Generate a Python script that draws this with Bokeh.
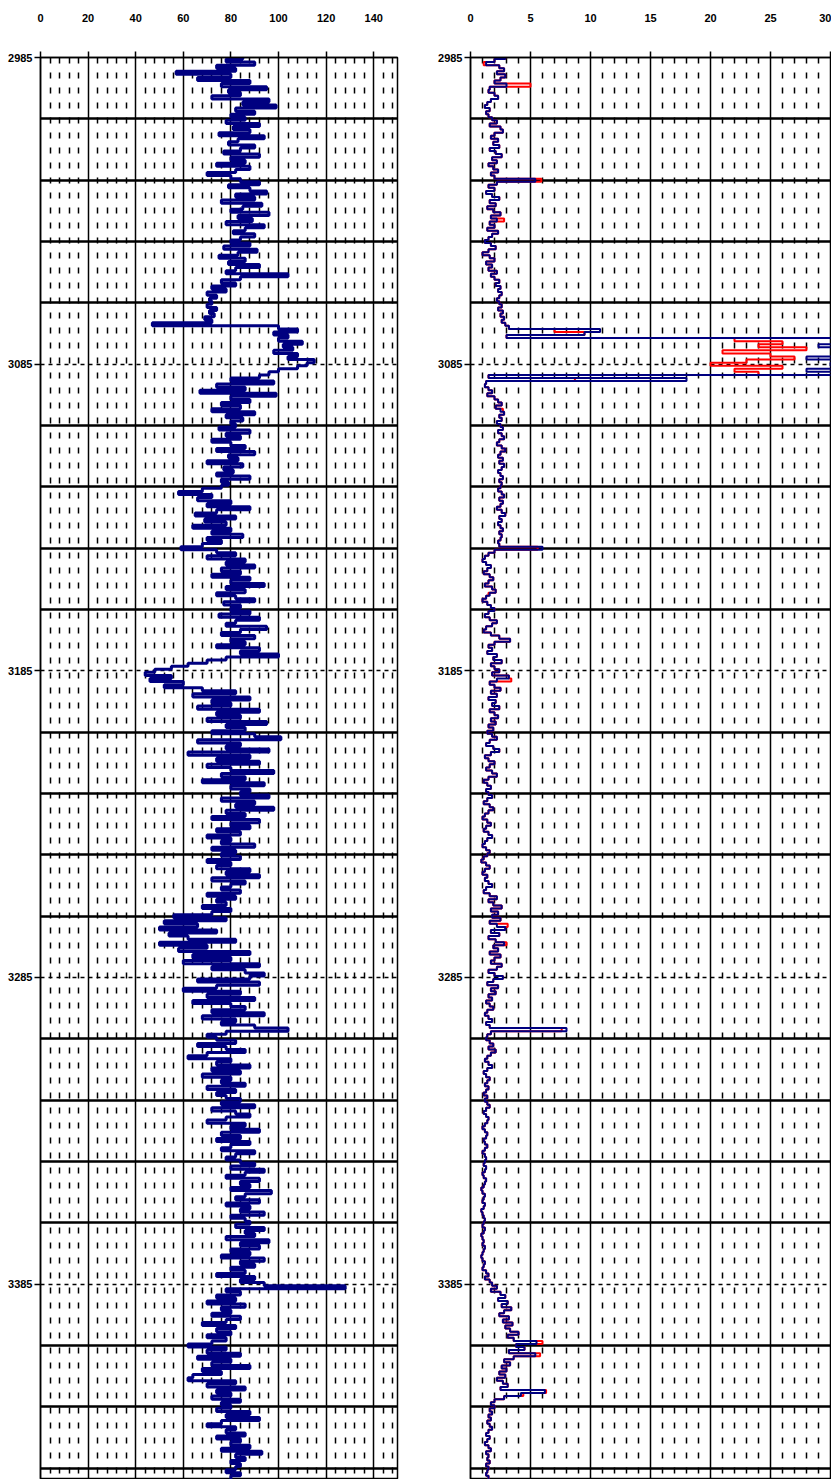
import numpy as np
from bokeh.plotting import figure
from bokeh.models import Range1d, FixedTicker, Grid
from bokeh.layouts import row
from bokeh.embed import file_html
from bokeh.resources import INLINE

# ---------------- data ----------------
DEPTH_TOP = 2985
DEPTH_BOTTOM = 3448.7
depth_labels = [2985, 3085, 3185, 3285, 3385]
left_ticks = [0, 20, 40, 60, 80, 100, 120, 140]
right_ticks = [0, 5, 10, 15, 20, 25, 30]

# left track curve, one value per metre from 2985
gr_values = [
    85, 78, 90, 74, 82, 57, 80, 66, 88, 76, 95, 79, 84, 72, 96, 85, 99, 82, 90, 80,
    86, 78, 92, 81, 88, 75, 94, 83, 79, 90, 84, 77, 92, 80, 86, 74, 88, 82, 70, 80,
    84, 92, 79, 88, 95, 82, 90, 76, 93, 85, 80, 96, 83, 89, 78, 94, 86, 81, 90, 84,
    80, 88, 77, 91, 83, 75, 86, 79, 92, 82, 78, 104, 84, 76, 82, 72, 78, 70, 74, 71,
    72, 70, 74, 71, 73, 69, 72, 47, 100, 108, 98, 104, 100, 110, 102, 106, 98, 108, 104, 115,
    112, 108, 100, 96, 92, 80, 98, 74, 86, 67, 99, 80, 88, 76, 84, 72, 90, 78, 85, 80,
    82, 75, 88, 78, 84, 72, 80, 86, 74, 90, 79, 83, 70, 85, 77, 81, 74, 88, 76, 79,
    76, 68, 58, 72, 66, 80, 70, 88, 74, 65, 82, 69, 78, 64, 80, 72, 85, 70, 76, 68,
    59, 74, 82, 70, 86, 78, 90, 76, 84, 72, 88, 80, 94, 78, 86, 74, 82, 90, 77, 84,
    80, 88, 75, 92, 82, 78, 95, 84, 76, 90, 80, 86, 74, 92, 84, 100, 78, 70, 62, 55,
    48, 44, 55, 46, 60, 52, 68, 82, 64, 88, 72, 80, 66, 92, 74, 84, 70, 95, 78, 86,
    72, 90, 101, 66, 84, 78, 96, 62, 88, 74, 92, 70, 80, 98, 76, 86, 68, 94, 80, 88,
    84, 96, 76, 90, 82, 98, 78, 86, 72, 92, 80, 88, 74, 84, 70, 80, 76, 90, 72, 82,
    76, 84, 70, 80, 74, 88, 78, 92, 72, 86, 80, 76, 84, 70, 82, 74, 78, 68, 80, 72,
    56, 78, 52, 66, 50, 74, 54, 62, 82, 50, 70, 58, 88, 64, 80, 60, 92, 72, 86, 94,
    88, 66, 92, 74, 60, 84, 70, 90, 64, 80, 86, 72, 94, 68, 82, 76, 90, 104, 78, 70,
    74, 82, 66, 78, 86, 70, 62, 80, 74, 88, 72, 84, 68, 80, 76, 86, 70, 82, 74, 78,
    84, 76, 90, 72, 82, 88, 78, 70, 86, 80, 92, 76, 84, 74, 88, 80, 76, 90, 82, 78,
    84, 90, 80, 94, 86, 78, 92, 84, 88, 80, 97, 86, 82, 92, 78, 88, 84, 94, 80, 86,
    88, 82, 94, 86, 90, 78, 96, 84, 92, 80, 88, 76, 94, 84, 90, 80, 86, 74, 90, 84,
    94, 128, 78, 84, 74, 82, 70, 86, 76, 80, 72, 84, 78, 68, 82, 74, 80, 70, 78, 72,
    62, 78, 70, 84, 66, 80, 72, 88, 68, 76, 64, 62, 82, 70, 86, 74, 80, 72, 84, 76,
    80, 74, 88, 78, 92, 76, 70, 82, 78, 86, 74, 84, 80, 88, 76, 93, 82, 86, 80, 84, 82, 78, 84, 80,
]

# right track, blue curve, one value per metre from 2985
res_blue = [
    2.9, 2.0, 1.3, 2.4, 2.8, 2.2, 2.9, 2.5, 2.0, 3.0, 1.6, 1.5, 2.0, 2.3, 1.7, 1.4, 1.2, 1.6, 1.3, 1.5,
    1.8, 2.2, 1.6, 2.5, 2.7, 2.0, 1.7, 2.3, 1.9, 2.4, 1.6, 2.1, 2.6, 1.8, 2.2, 1.5, 1.9, 2.3, 1.7, 2.0,
    5.4, 2.2, 1.5, 2.0, 1.3, 1.8, 2.4, 1.6, 2.1, 1.4, 1.9, 2.5, 1.7, 2.2, 1.6, 2.0, 1.4, 2.3, 1.8, 1.5,
    1.2, 1.7, 2.1, 1.5, 1.0, 1.6, 2.0, 1.3, 1.8, 1.5, 2.2, 1.7, 2.0, 2.4, 2.1, 2.5, 2.3, 2.6, 2.4, 2.2,
    2.4, 2.6, 2.3, 2.7, 2.5, 2.8, 2.6, 2.9, 3.2, 10.8, 9.5, 3.0, 35, 32, 29, 35, 31, 35, 28, 33,
    30, 35, 28, 35, 1.5, 18, 1.3, 1.2, 1.5, 1.8, 1.4, 2.0, 2.3, 2.6, 2.1, 2.5, 2.8, 2.4, 2.6, 2.2,
    2.5, 2.7, 2.3, 2.6, 2.8, 2.4, 2.2, 2.6, 2.9, 2.5, 2.3, 2.7, 2.4, 2.8, 2.6, 2.3, 2.5, 2.7, 2.4, 2.6,
    2.5, 2.3, 2.6, 2.8, 2.4, 2.7, 2.5, 2.2, 2.6, 2.9, 2.4, 2.6, 2.3, 2.5, 2.7, 2.4, 2.6, 2.5, 2.3, 2.4,
    6.0, 2.0, 1.5, 1.2, 1.0, 1.3, 1.7, 1.4, 1.1, 1.6, 1.9, 1.5, 1.2, 1.8, 2.1, 1.6, 1.3, 1.0, 1.4, 1.7,
    2.0, 1.5, 1.2, 1.6, 2.2, 1.8, 1.3, 1.1, 1.7, 2.4, 3.3, 2.0, 1.5, 1.8, 1.4, 2.2, 1.9, 2.6, 1.7, 2.0,
    2.4, 1.8, 3.2, 2.2, 1.6, 2.0, 2.5, 1.7, 2.2, 1.5, 2.1, 1.8, 2.4, 1.6, 2.0, 2.3, 1.7, 2.1, 1.5, 1.9,
    1.4, 1.8, 2.2, 1.6, 1.3, 1.9, 2.4, 1.7, 1.2, 1.5, 2.0, 1.6, 1.3, 1.8, 2.2, 1.5, 1.1, 1.4, 1.7, 1.3,
    1.5, 1.8, 1.4, 1.1, 1.6, 1.9, 1.5, 1.2, 1.0, 1.4, 1.7, 1.3, 1.1, 1.5, 1.8, 1.4, 1.2, 1.0, 1.3, 1.6,
    1.4, 1.1, 0.9, 1.3, 1.6, 1.2, 1.0, 1.4, 1.2, 1.5, 1.8, 1.3, 1.1, 1.6, 2.2, 1.5, 1.9, 2.6, 1.7, 2.3,
    1.8, 2.5, 1.6, 2.2, 2.9, 1.7, 2.4, 1.5, 2.1, 2.8, 1.9, 2.3, 1.6, 2.5, 2.0, 1.7, 2.6, 2.2, 1.5, 2.0,
    2.7, 1.9, 1.4, 2.3, 1.7, 2.1, 1.5, 1.8, 1.3, 1.6, 1.9, 1.4, 1.2, 1.5, 1.8, 1.3, 1.6, 8.0, 1.7, 1.4,
    1.3, 1.6, 1.9, 1.5, 2.1, 1.7, 1.4, 1.2, 1.5, 1.8, 1.4, 1.1, 1.3, 1.6, 1.4, 1.2, 1.5, 1.3, 1.1, 1.4,
    1.2, 1.4, 1.6, 1.3, 1.1, 1.3, 1.5, 1.4, 1.2, 1.0, 1.2, 1.4, 1.3, 1.1, 1.2, 1.4, 1.2, 1.0, 1.2, 1.3,
    1.2, 1.1, 1.3, 1.2, 1.0, 1.1, 1.3, 1.2, 1.1, 0.9, 1.0, 1.2, 1.1, 1.0, 1.2, 1.1, 0.9, 1.0, 1.1, 1.2,
    1.1, 1.0, 1.2, 1.1, 0.9, 1.0, 1.1, 1.0, 1.2, 1.1, 1.0, 0.9, 1.0, 1.2, 1.1, 1.0, 1.3, 1.5, 1.2, 1.6,
    1.8, 2.2, 1.7, 2.5, 2.9, 2.3, 3.1, 2.6, 3.4, 2.8, 2.4, 3.2, 2.7, 3.5, 2.9, 3.3, 4.0, 3.1, 3.6, 5.5,
    3.8, 4.5, 3.2, 5.4, 3.6, 2.8, 3.3, 2.6, 3.0, 2.4, 2.9, 2.2, 2.7, 3.1, 2.5, 6.2, 4.2, 2.8, 2.0, 1.7,
    2.0, 1.6, 1.8, 1.5, 1.7, 1.4, 1.6, 1.8, 1.5, 1.3, 1.6, 1.4, 1.2, 1.5, 1.7, 1.3, 1.5, 1.4, 1.6, 1.3, 1.5, 1.4, 1.3, 1.5,
]

# right track, red curve: equal to the blue one except at these depths
res_red_diff = {
    2987: 1.1, 2994: 5.0, 3025: 5.9, 3038: 2.8, 3074: 7.0,
    3077: 22, 3078: 26, 3079: 24, 3080: 28, 3081: 21, 3082: 25, 3083: 27,
    3084: 23, 3085: 20, 3086: 26, 3087: 22, 3088: 24, 3090: 8.7, 3100: 2.7,
    3145: 5.6, 3160: 1.5, 3188: 3.4, 3230: 1.9, 3268: 3.1, 3274: 3.0,
    3302: 7.6, 3404: 6.0, 3408: 5.8, 3420: 6.3, 3421: 4.4,
}

NAVY = "#000080"
RED = "#ff0000"
FONT = "Liberation Sans"


def step_xy(values):
    vals = np.asarray(values, dtype=float)
    depths = DEPTH_TOP + np.arange(len(vals))
    ys = np.repeat(depths, 2) + np.tile([-0.5, 0.5], len(vals))
    xs = np.repeat(vals, 2)
    return xs, ys


def make_track(x_end, ticks, major_step, minor_step, width, b_left, b_right):
    p = figure(width=width, height=1479,
               x_range=Range1d(0, x_end),
               y_range=Range1d(DEPTH_BOTTOM, DEPTH_TOP),
               x_axis_location="above",
               output_backend="svg", toolbar_location=None,
               min_border_left=b_left, min_border_right=b_right,
               min_border_top=57, min_border_bottom=0)
    p.background_fill_color = "white"
    p.border_fill_color = "white"
    p.outline_line_color = "black"
    p.outline_line_width = 1.5

    p.xaxis.ticker = FixedTicker(ticks=ticks, minor_ticks=[])
    p.yaxis.ticker = FixedTicker(ticks=depth_labels, minor_ticks=[])
    for ax in (p.xaxis, p.yaxis):
        ax.major_tick_out = 6
        ax.major_tick_in = 0
        ax.minor_tick_out = 0
        ax.minor_tick_in = 0
        ax.major_tick_line_color = "black"
        ax.major_tick_line_width = 1.5
        ax.axis_line_color = "black"
        ax.axis_line_width = 1.5
        ax.major_label_text_font = FONT
        ax.major_label_text_font_style = "bold"
        ax.major_label_text_font_size = "11px"
        ax.major_label_text_color = "black"
    p.xaxis.major_label_standoff = 30
    p.yaxis.major_label_standoff = 2

    p.xgrid.grid_line_color = None
    p.ygrid.grid_line_color = None

    n_major = int(round(x_end / major_step))
    majors = [major_step * i for i in range(1, n_major + 1) if major_step * i < x_end]
    n_minor = int(round(x_end / minor_step))
    minors = [minor_step * i for i in range(1, n_minor + 1)
              if (i * minor_step) % major_step != 0 and minor_step * i < x_end]
    h_major = [d for d in range(DEPTH_TOP + 20, int(DEPTH_BOTTOM) + 1, 20) if d not in depth_labels]

    p.add_layout(Grid(dimension=0, ticker=FixedTicker(ticks=minors),
                      grid_line_color="black", grid_line_width=1.5, grid_line_dash="6 9"))
    p.add_layout(Grid(dimension=0, ticker=FixedTicker(ticks=majors),
                      grid_line_color="black", grid_line_width=1.5))
    p.add_layout(Grid(dimension=1, ticker=FixedTicker(ticks=h_major),
                      grid_line_color="black", grid_line_width=2.5))
    p.add_layout(Grid(dimension=1, ticker=FixedTicker(ticks=depth_labels[1:]),
                      grid_line_color="black", grid_line_width=1.5, grid_line_dash="4 4"))
    return p


# left track
p1 = make_track(150, left_ticks, 20, 4, 420, 40, 23)
x1, y1 = step_xy(gr_values)
p1.line(x1, y1, line_color=NAVY, line_width=3)

# right track
p2 = make_track(30, right_ticks, 5, 1, 411, 50, 1)
res_red = list(res_blue)
for d, v in res_red_diff.items():
    res_red[d - DEPTH_TOP] = v
xr, yr = step_xy(res_red)
p2.line(xr, yr, line_color=RED, line_width=2)
xb, yb = step_xy(res_blue)
p2.line(xb, yb, line_color=NAVY, line_width=2)

layout = row(p1, p2, spacing=0)
open("out.html", "w").write(file_html(layout, INLINE))
